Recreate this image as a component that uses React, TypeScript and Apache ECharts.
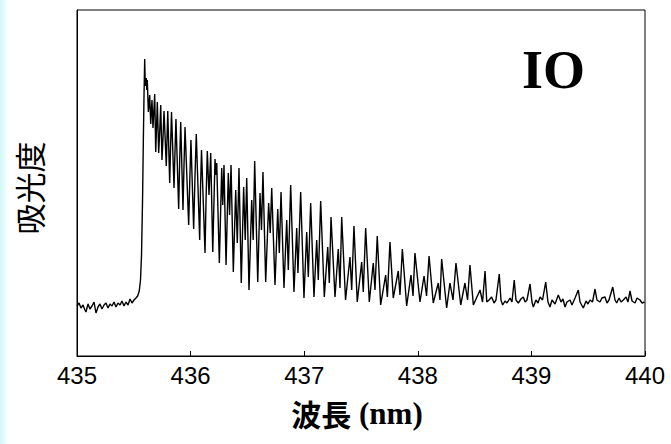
import React, { useEffect, useRef } from "react";
import * as echarts from "echarts";

// Wavelength (nm)
const wavelength = [
  435.000, 435.018, 435.035, 435.053, 435.070, 435.079, 435.097, 435.114, 435.132, 435.150,
  435.167, 435.185, 435.202, 435.220, 435.238, 435.255, 435.273, 435.290, 435.308, 435.326,
  435.343, 435.361, 435.379, 435.396, 435.414, 435.431, 435.449, 435.467, 435.484, 435.502,
  435.519, 435.534, 435.548, 435.559, 435.568, 435.577, 435.584, 435.590, 435.596,
  435.601, 435.610, 435.614, 435.619, 435.628, 435.640, 435.649, 435.660, 435.669, 435.684,
  435.693, 435.700, 435.707, 435.719, 435.728, 435.737, 435.748, 435.757, 435.766, 435.786,
  435.792, 435.799, 435.816, 435.823, 435.832, 435.854, 435.863, 435.871, 435.895, 435.904,
  435.913, 435.933, 435.942, 435.951, 435.983, 435.993, 436.003, 436.027, 436.039, 436.050,
  436.080, 436.087, 436.096, 436.127, 436.136, 436.147, 436.162, 436.177, 436.195, 436.206,
  436.215, 436.222, 436.230, 436.253, 436.274, 436.283, 436.294, 436.312, 436.332, 436.343,
  436.356, 436.376, 436.397, 436.411, 436.426, 436.446, 436.467, 436.481, 436.494, 436.514,
  436.538, 436.551, 436.564, 436.591, 436.611, 436.624, 436.637, 436.661, 436.687, 436.701,
  436.714, 436.743, 436.767, 436.781, 436.796, 436.822, 436.846, 436.860, 436.881, 436.910,
  436.934, 436.945, 436.969, 436.998, 437.022, 437.036, 437.057, 437.086, 437.110, 437.124,
  437.145, 437.177, 437.207, 437.221, 437.236, 437.271, 437.300, 437.315, 437.330, 437.364,
  437.403, 437.418, 437.438, 437.467, 437.506, 437.520, 437.541, 437.573, 437.608, 437.623,
  437.643, 437.673, 437.717, 437.732, 437.755, 437.784, 437.828, 437.843, 437.864, 437.902,
  437.940, 437.958, 437.975, 438.019, 438.055, 438.077, 438.099, 438.136, 438.180, 438.195,
  438.210, 438.254, 438.283, 438.310, 438.336, 438.378, 438.415, 438.438, 438.459, 438.489,
  438.548, 438.570, 438.592, 438.607,
  438.627, 438.650, 438.671, 438.688, 438.717, 438.732, 438.747, 438.768, 438.785, 438.812,
  438.829, 438.849, 438.864, 438.885, 438.908, 438.929, 438.944, 438.961, 438.988, 439.005,
  439.017, 439.040, 439.058, 439.076, 439.098, 439.126, 439.146, 439.164, 439.181, 439.208,
  439.237, 439.261, 439.278, 439.296, 439.313, 439.340, 439.357, 439.384, 439.413, 439.428,
  439.457, 439.481, 439.498, 439.516, 439.538, 439.560, 439.577, 439.604, 439.621, 439.648,
  439.665, 439.683, 439.716, 439.736, 439.751, 439.771, 439.789, 439.809, 439.833, 439.850,
  439.868, 439.886, 439.912, 439.930, 439.956, 439.974, 439.996,
];

// Absorbance (arbitrary units)
const absorbance = [
  50, 53, 48, 51, 46, 44, 52, 47, 50, 54,
  43, 49, 52, 47, 51, 53, 48, 52, 50, 54,
  49, 53, 51, 55, 50, 54, 51, 57, 53, 56,
  58, 60, 65, 76, 101, 156, 216, 261, 297,
  270, 278, 266, 276, 244, 261, 232, 256, 228, 262,
  204, 228, 254, 203, 224, 251, 196, 218, 245, 190,
  216, 245, 173, 206, 244, 168, 206, 237, 147, 196,
  234, 146, 191, 229, 131, 176, 216, 127, 181, 222,
  116, 166, 206, 103, 156, 205, 161, 203, 104, 156,
  197, 181, 193, 93, 188, 151, 191, 91, 183, 141,
  191, 84, 166, 113, 188, 73, 169, 116, 178, 66,
  156, 116, 195, 74, 163, 126, 184, 74, 153, 123,
  168, 71, 147, 103, 164, 68, 136, 86, 171, 64,
  128, 83, 164, 58, 124, 79, 153, 59, 116, 76,
  155, 59, 109, 73, 139, 59, 107, 68, 139, 56,
  99, 66, 130, 54, 94, 64, 128, 54, 93, 66,
  120, 51, 81, 59, 114, 58, 85, 61, 107, 50,
  81, 60, 103, 54, 80, 60, 100, 53, 73, 56,
  97, 48, 73, 56, 93, 51, 73, 56, 91, 51,
  66, 54, 85, 54,
  56, 59, 53, 56, 82, 56, 51, 55, 53, 58,
  54, 76, 56, 53, 57, 59, 54, 56, 72, 54,
  49, 56, 53, 59, 56, 74, 54, 49, 56, 52,
  61, 54, 57, 49, 54, 56, 51, 58, 66, 54,
  48, 55, 52, 56, 54, 67, 56, 54, 58, 59,
  53, 56, 69, 56, 53, 58, 54, 56, 59, 54,
  65, 55, 53, 58, 56, 53, 54,
];

const xMin = 435;
const xMax = 440;
const xStep = 1;
const yMin = 0;
const yMax = 346;
const xTitleMain = "波長";
const xTitleUnit = " (nm)";
const yTitle = "吸光度";
const moleculeLabel = "IO";

export default function App() {
  const ref = useRef<HTMLDivElement>(null);

  useEffect(() => {
    if (!ref.current) return;
    const chart = echarts.init(ref.current, null, { renderer: "svg" });
    chart.setOption({
      animation: false,
      backgroundColor: "#ffffff",
      grid: {
        left: 77,
        top: 10,
        width: 568,
        height: 346,
        show: true,
        borderColor: "#000",
        borderWidth: 1,
        backgroundColor: "transparent",
      },
      xAxis: {
        type: "value",
        min: xMin,
        max: xMax,
        interval: xStep,
        axisLine: { show: true, lineStyle: { color: "#000", width: 1 } },
        axisTick: { show: true, inside: true, length: 5, lineStyle: { color: "#000", width: 1 } },
        axisLabel: {
          color: "#000",
          fontSize: 24,
          fontFamily: '"Liberation Sans", Arial, sans-serif',
          margin: 7,
        },
        splitLine: { show: false },
      },
      yAxis: {
        type: "value",
        min: yMin,
        max: yMax,
        axisLine: { show: true, lineStyle: { color: "#000", width: 1 } },
        axisTick: { show: false },
        axisLabel: { show: false },
        splitLine: { show: false },
      },
      series: [
        {
          type: "line",
          data: wavelength.map((w, i) => [w, absorbance[i]]),
          showSymbol: false,
          symbol: "none",
          silent: true,
          lineStyle: { color: "#000", width: 1.4 },
        },
      ],
      graphic: [
        {
          type: "rect",
          z: -10,
          shape: { x: 0, y: 0, width: 7, height: 444 },
          style: {
            fill: new echarts.graphic.LinearGradient(0, 0, 1, 0, [
              { offset: 0, color: "#d2f8f8" },
              { offset: 1, color: "#f2ffff" },
            ]),
          },
        },
        {
          type: "text",
          x: 28,
          y: 188,
          rotation: Math.PI / 2,
          style: {
            text: yTitle,
            font: '31px "Noto Sans CJK JP"',
            fill: "#000",
            align: "center",
            verticalAlign: "middle",
          },
        },
        {
          type: "text",
          x: 357,
          y: 413,
          style: {
            text: "{a|" + xTitleMain + "}{b|" + xTitleUnit + "}",
            rich: {
              a: { font: 'bold 30px "Noto Sans CJK JP"', fill: "#000" },
              b: { font: 'bold 31px "Liberation Serif"', fill: "#000" },
            },
            fill: "#000",
            align: "center",
            verticalAlign: "middle",
          },
        },
        {
          type: "text",
          x: 522,
          y: 70,
          style: {
            text: moleculeLabel,
            font: 'bold 54px "Liberation Serif"',
            fill: "#000",
            align: "left",
            verticalAlign: "middle",
          },
        },
      ],
    });
    return () => chart.dispose();
  }, []);

  return (
    <div
      ref={ref}
      style={{ position: "absolute", left: 0, top: 0, width: 671, height: 444 }}
    />
  );
}
